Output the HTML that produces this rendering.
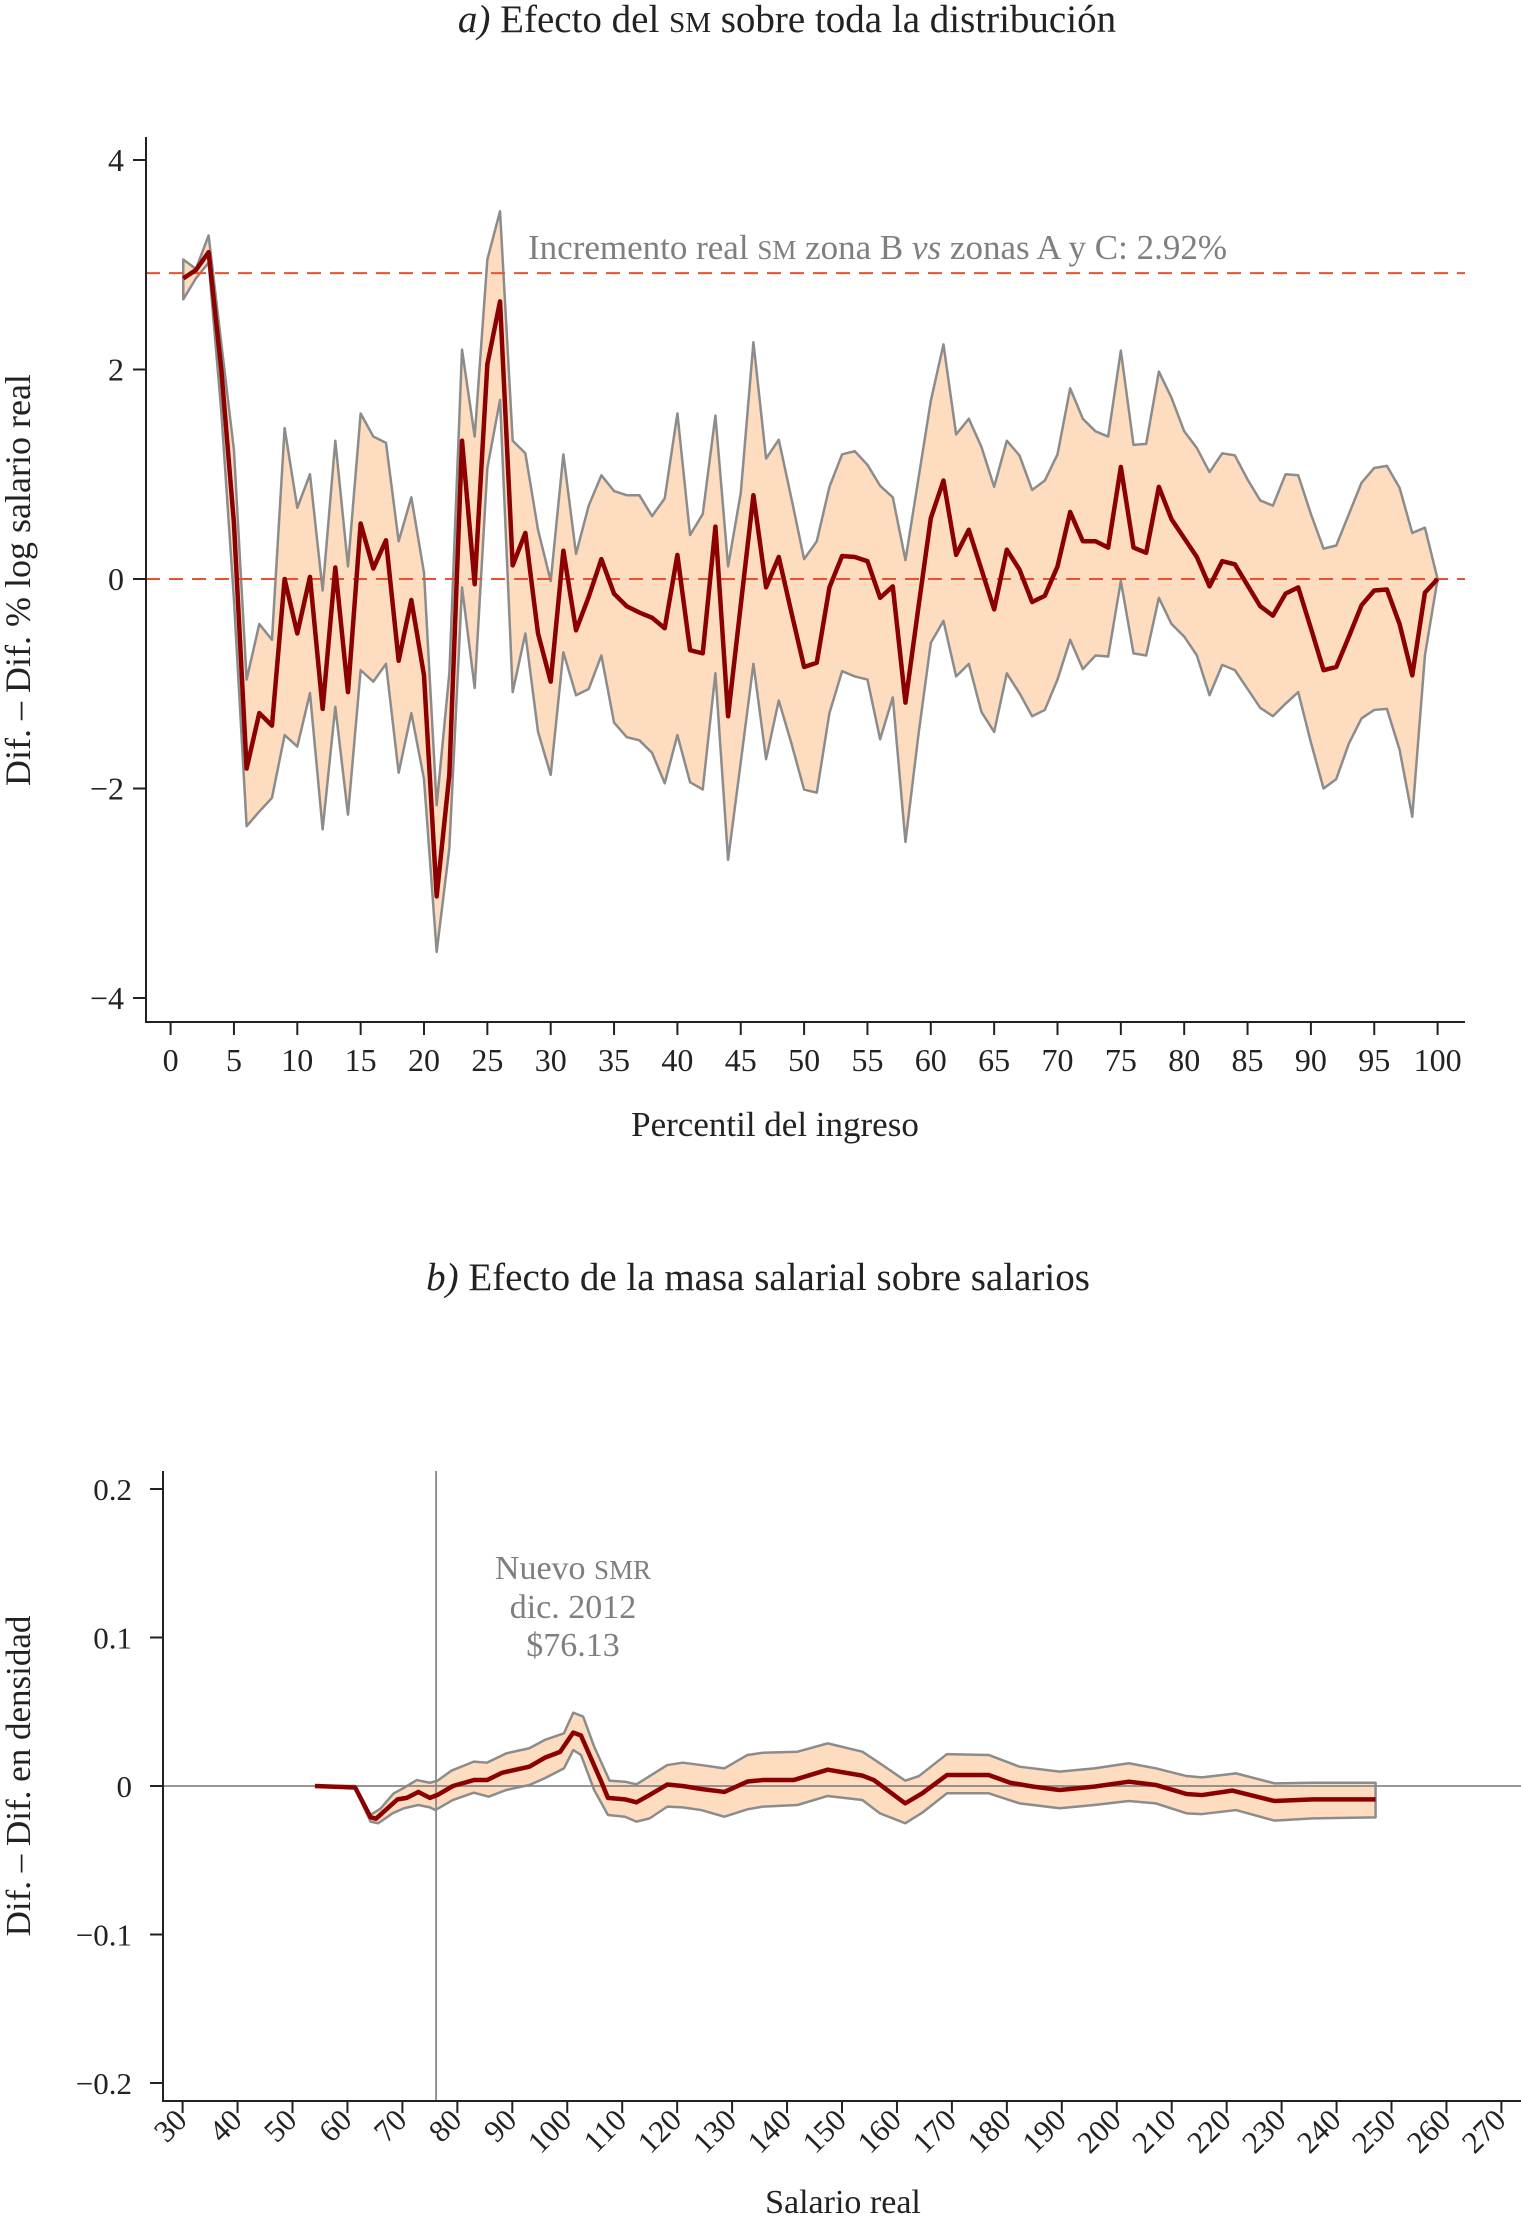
<!DOCTYPE html>
<html><head><meta charset="utf-8">
<style>
html,body{margin:0;padding:0;background:#fff;}
svg{display:block;}
text{font-family:"Liberation Serif",serif;}
</style></head>
<body>
<svg id="chart" width="1521" height="2218" viewBox="0 0 1521 2218" xmlns="http://www.w3.org/2000/svg">
<g id="topChart"></g>
<g id="botChart"></g>
</svg>
<script>
// ---------- Chart A data ----------
const pctA = [];
for (let i = 1; i <= 100; i++) pctA.push(i);
const meanA = [2.87,2.95,3.12,2.0,0.53,-1.81,-1.28,-1.4,0,-0.52,0.02,-1.24,0.11,-1.08,0.53,0.1,0.37,-0.78,-0.2,-0.92,
-3.03,-1.87,1.32,-0.05,2.05,2.65,0.13,0.44,-0.52,-0.98,0.27,-0.49,-0.17,0.19,-0.14,-0.26,-0.32,-0.37,-0.47,0.23,
-0.68,-0.71,0.5,-1.31,-0.25,0.8,-0.08,0.21,-0.32,-0.84,-0.8,-0.08,0.22,0.21,0.17,-0.18,-0.07,-1.18,-0.29,0.58,
0.94,0.23,0.47,0.09,-0.29,0.28,0.09,-0.22,-0.16,0.12,0.64,0.36,0.36,0.3,1.07,0.3,0.25,0.88,0.57,0.39,
0.21,-0.07,0.17,0.14,-0.06,-0.26,-0.35,-0.14,-0.08,-0.47,-0.87,-0.84,-0.55,-0.25,-0.11,-0.1,-0.43,-0.92,-0.13,0];
const upperA = [3.05,2.96,3.28,2.25,1.23,-0.96,-0.43,-0.58,1.44,0.68,1.0,-0.11,1.32,0.12,1.58,1.36,1.3,0.36,0.78,0.06,
-2.16,-0.9,2.19,1.36,3.05,3.51,1.32,1.2,0.47,-0.02,1.19,0.24,0.7,0.99,0.84,0.8,0.8,0.6,0.77,1.58,
0.42,0.62,1.56,0.12,0.82,2.26,1.15,1.33,0.77,0.19,0.36,0.88,1.19,1.22,1.09,0.89,0.78,0.18,0.94,1.7,
2.24,1.38,1.53,1.26,0.88,1.32,1.18,0.85,0.94,1.19,1.82,1.53,1.41,1.36,2.18,1.28,1.29,1.98,1.73,1.41,
1.25,1.02,1.2,1.18,0.95,0.75,0.7,1.0,0.99,0.62,0.29,0.32,0.62,0.92,1.06,1.08,0.87,0.44,0.49,0];
const lowerA = [2.67,2.87,3.02,1.6,-0.2,-2.36,-2.22,-2.09,-1.49,-1.6,-1.09,-2.39,-1.22,-2.25,-0.87,-0.98,-0.81,-1.85,-1.28,-1.91,
-3.56,-2.57,-0.08,-1.04,1.06,1.71,-1.08,-0.52,-1.46,-1.87,-0.7,-1.11,-1.05,-0.73,-1.37,-1.51,-1.54,-1.66,-1.95,-1.49,
-1.94,-2.01,-0.9,-2.68,-1.75,-0.81,-1.72,-1.16,-1.57,-2.01,-2.04,-1.28,-0.88,-0.93,-0.96,-1.53,-1.13,-2.51,-1.51,-0.61,
-0.4,-0.93,-0.81,-1.27,-1.46,-0.9,-1.09,-1.31,-1.25,-0.96,-0.58,-0.86,-0.73,-0.74,-0.02,-0.71,-0.73,-0.18,-0.43,-0.55,
-0.73,-1.11,-0.82,-0.87,-1.05,-1.23,-1.31,-1.19,-1.08,-1.56,-2.0,-1.91,-1.57,-1.33,-1.25,-1.24,-1.63,-2.27,-0.73,0];
const refLinesA = [2.92, 0];
const xTicksA = [0,5,10,15,20,25,30,35,40,45,50,55,60,65,70,75,80,85,90,95,100];
const yTicksA = [4,2,0,-2,-4];
const yTickLabelsA = ["4","2","0","\u22122","\u22124"];

// ---------- Chart B data ----------
const wageMean = [54.1,61.4,64.2,65.2,67,69.1,70.8,72.9,75,76.4,79.2,83,85.4,88.2,93.1,95.9,98.7,101.1,102.5,106.3,107.4,110.5,112.6,115,118.2,121,124.4,128.6,132.8,135.6,141.2,147.4,153.7,155.8,161.5,164.6,169.1,176.7,180.6,184.8,189.6,195.9,202.2,207.1,212.7,215.5,221,228.7,235.7,247.1];
const meanB = [0,-0.001,-0.021,-0.022,-0.016,-0.009,-0.008,-0.004,-0.008,-0.006,0,0.004,0.004,0.009,0.013,0.019,0.023,0.036,0.034,0.002,-0.008,-0.009,-0.011,-0.006,0.001,0,-0.002,-0.004,0.003,0.004,0.004,0.011,0.007,0.004,-0.0117,-0.0049,0.0074,0.0074,0.0022,-0.0004,-0.0027,-0.0004,0.0029,0.0007,-0.0054,-0.0061,-0.0031,-0.0101,-0.009,-0.009];
const wageUpper = [54.1,61.4,64.2,66,68.4,70.1,72.6,75,76.4,78.9,83,85.4,88.9,93.1,95.9,99.4,101.1,102.9,104.9,107.7,110.5,112.6,118.2,121,124.4,128.6,132.8,135.6,141.9,147.4,153.7,156.9,161.5,164,169.1,176.7,182.3,189.6,195.9,202.2,207.1,212.7,215.5,221.7,228.7,235.7,247.1];
const upperB = [0,0,-0.0195,-0.0153,-0.005,-0.0016,0.004,0.0022,0.0036,0.0103,0.0164,0.0157,0.022,0.0254,0.031,0.0355,0.0494,0.0467,0.0265,0.0036,0.0029,0.0011,0.0141,0.0157,0.0141,0.0119,0.0209,0.0224,0.0231,0.0287,0.0231,0.0153,0.0036,0.0067,0.0215,0.0209,0.013,0.0097,0.0119,0.0153,0.0119,0.0067,0.0058,0.0085,0.0018,0.0022,0.0022];
const wageLower = [54.1,61.4,64.2,65.6,68.2,70.3,72.9,75,76,79.2,83,85.7,88.9,93.1,95.9,99.4,101.1,102.5,104.9,107.4,110.5,112.6,115,118.2,121,124.4,128.6,132.8,135.6,141.9,147.4,153.7,156.9,161.5,164.6,169.1,176.7,182.3,189.6,195.9,202.2,207.1,212.7,215.5,221.7,228.7,235.7,247.1];
const lowerB = [0,-0.0016,-0.024,-0.0251,-0.0184,-0.015,-0.0128,-0.0144,-0.0162,-0.0094,-0.0045,-0.0072,-0.0027,0.0007,0.0052,0.0119,0.0242,0.0209,-0.0027,-0.0195,-0.0207,-0.024,-0.0218,-0.0139,-0.0144,-0.0162,-0.0207,-0.0157,-0.0139,-0.0128,-0.0067,-0.0094,-0.0184,-0.0251,-0.018,-0.0049,-0.0049,-0.0117,-0.015,-0.0128,-0.0101,-0.0117,-0.0184,-0.0189,-0.0162,-0.0233,-0.0218,-0.0211];
const newMinWage = [76.13];
const xTicksB = [30,40,50,60,70,80,90,100,110,120,130,140,150,160,170,180,190,200,210,220,230,240,250,260,270];
const yTicksB = [0.2,0.1,0,-0.1,-0.2];
const yTickLabelsB = ["0.2","0.1","0","\u22120.1","\u22120.2"];

const NS = "http://www.w3.org/2000/svg";
function mk(parent, tag, attrs, txt) {
  const e = document.createElementNS(NS, tag);
  for (const k in attrs) e.setAttribute(k, attrs[k]);
  if (txt !== undefined) e.textContent = txt;
  parent.appendChild(e);
  return e;
}
const FILL = "#fddcbf", EDGE = "#8c8c8c", MEAN = "#8b0000", DASH = "#e8532f";

// ---------- Chart A ----------
(function(){
  const g = document.getElementById("topChart");
  const xA = v => 170.6 + 12.67 * v;
  const yA = v => 579 - 104.75 * v;
  let t = mk(g, "text", {x: 787, y: 32, "text-anchor": "middle", "font-size": 39, fill: "#222"});
  
  
  t.innerHTML = '<tspan font-style="italic">a)</tspan> Efecto del <tspan font-size="29">SM</tspan> sobre toda la distribución';
  let pts = pctA.map((p,i)=>xA(p)+","+yA(upperA[i]));
  for (let i = pctA.length-1; i >= 0; i--) pts.push(xA(pctA[i])+","+yA(lowerA[i]));
  let band = mk(g, "polygon", {points: pts.join(" "), fill: FILL, stroke: EDGE, "stroke-width": 2.5, "stroke-linejoin": "round"});
  
  
  refLinesA.forEach((r,i)=>{
    const l = mk(g, "line", {x1: 146, x2: 1465, y1: yA(r), y2: yA(r), stroke: DASH, "stroke-width": 2, "stroke-dasharray": "14 9"});
    
    
  });
  let ml = mk(g, "polyline", {points: pctA.map((p,i)=>xA(p)+","+yA(meanA[i])).join(" "), fill: "none", stroke: MEAN, "stroke-width": 4.5, "stroke-linejoin": "round"});
  
  
  let an = mk(g, "text", {x: 528, y: 259, "font-size": 35, fill: "#7f7f7f"});
  
  
  an.innerHTML = 'Incremento real <tspan font-size="27">SM</tspan> zona B <tspan font-style="italic">vs</tspan> zonas A y C: 2.92%';
  let ax = mk(g, "path", {d: "M146,137 V1022 H1465", fill: "none", stroke: "#222", "stroke-width": 2});
  
  
  yTicksA.forEach((v,i)=>{
    mk(g, "line", {x1: 133, x2: 146, y1: yA(v), y2: yA(v), stroke: "#222", "stroke-width": 2});
    const tl = mk(g, "text", {x: 124, y: yA(v)+11, "text-anchor": "end", "font-size": 32, fill: "#222"}, yTickLabelsA[i]);
    
    
  });
  xTicksA.forEach(v=>{
    mk(g, "line", {x1: xA(v), x2: xA(v), y1: 1022, y2: 1035, stroke: "#222", "stroke-width": 2});
    const tl = mk(g, "text", {x: xA(v), y: 1071, "text-anchor": "middle", "font-size": 32, fill: "#222"}, String(v));
    
    
  });
  let xt = mk(g, "text", {x: 775, y: 1136, "text-anchor": "middle", "font-size": 35, fill: "#222"}, "Percentil del ingreso");
  
  
  let yt = mk(g, "text", {x: 0, y: 0, transform: "translate(30,580) rotate(-90)", "text-anchor": "middle", "font-size": 36, fill: "#222"}, "Dif. \u2013 Dif.  % log salario real");
  
  
})();

// ---------- Chart B ----------
(function(){
  const g = document.getElementById("botChart");
  const xB = v => 182.6 + 5.495 * (v - 30);
  const yB = v => 1786 - 1485 * v;
  let t = mk(g, "text", {x: 758, y: 1290, "text-anchor": "middle", "font-size": 39, fill: "#222"});
  
  
  t.innerHTML = '<tspan font-style="italic">b)</tspan> Efecto de la masa salarial sobre salarios';
  let pts = wageUpper.map((w,i)=>xB(w)+","+yB(upperB[i]));
  for (let i = wageLower.length-1; i >= 0; i--) pts.push(xB(wageLower[i])+","+yB(lowerB[i]));
  let band = mk(g, "polygon", {points: pts.join(" "), fill: FILL, stroke: EDGE, "stroke-width": 2.5, "stroke-linejoin": "round"});
  
  
  let zl = mk(g, "line", {x1: 163, x2: 1521, y1: yB(0), y2: yB(0), stroke: "#888", "stroke-width": 1.8});
  
  
  let vl = mk(g, "line", {x1: xB(newMinWage[0]), x2: xB(newMinWage[0]), y1: 1471, y2: 2101, stroke: "#888", "stroke-width": 1.8});
  
  
  let ml = mk(g, "polyline", {points: wageMean.map((w,i)=>xB(w)+","+yB(meanB[i])).join(" "), fill: "none", stroke: MEAN, "stroke-width": 4.5, "stroke-linejoin": "round"});
  
  
  let an = mk(g, "text", {x: 573, y: 1579, "text-anchor": "middle", "font-size": 34, fill: "#7f7f7f"});
  
  
  an.innerHTML = '<tspan x="573" dy="0">Nuevo <tspan font-size="27">SMR</tspan></tspan><tspan x="573" dy="39">dic. 2012</tspan><tspan x="573" dy="38">$76.13</tspan>';
  let ax = mk(g, "path", {d: "M163,1471 V2101 H1521", fill: "none", stroke: "#222", "stroke-width": 2});
  
  
  yTicksB.forEach((v,i)=>{
    mk(g, "line", {x1: 150, x2: 163, y1: yB(v), y2: yB(v), stroke: "#222", "stroke-width": 2});
    const tl = mk(g, "text", {x: 132, y: yB(v)+11, "text-anchor": "end", "font-size": 31, fill: "#222"}, yTickLabelsB[i]);
    
    
  });
  xTicksB.forEach(v=>{
    const x = xB(v);
    mk(g, "line", {x1: x, x2: x, y1: 2101, y2: 2113, stroke: "#222", "stroke-width": 2});
    const tl = mk(g, "text", {x: 0, y: 0, transform: `translate(${x+6},2122) rotate(-45)`, "text-anchor": "end", "font-size": 31, fill: "#222"}, String(v));
    
    
  });
  let xt = mk(g, "text", {x: 843, y: 2213, "text-anchor": "middle", "font-size": 34, fill: "#222"}, "Salario real");
  
  
  let yt = mk(g, "text", {x: 0, y: 0, transform: "translate(30,1776) rotate(-90)", "text-anchor": "middle", "font-size": 35, fill: "#222"}, "Dif. \u2013 Dif. en densidad");
  
  
})();
</script>
</body></html>
